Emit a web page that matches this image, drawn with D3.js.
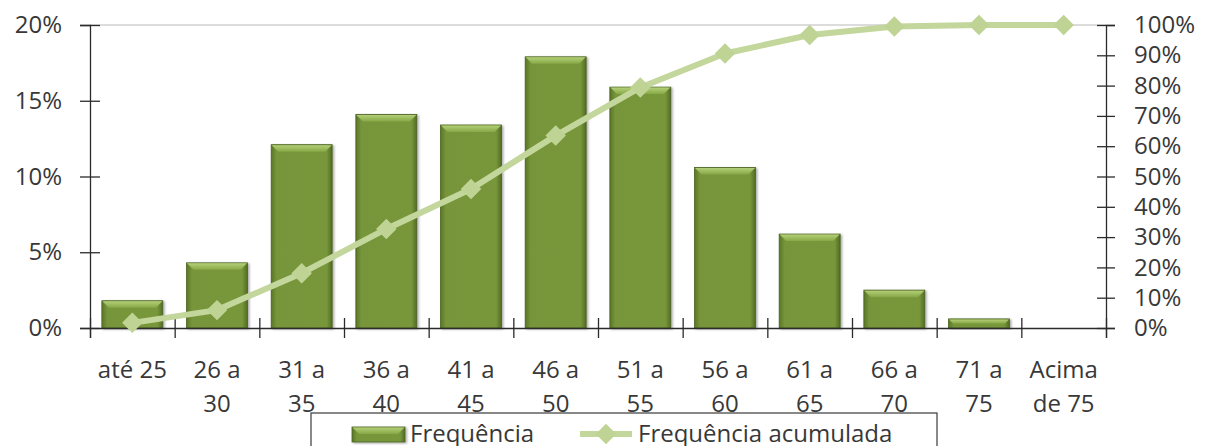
<!DOCTYPE html>
<html>
<head>
<meta charset="utf-8">
<script src="https://cdn.jsdelivr.net/npm/d3@7"></script>
<style>
  html, body { margin: 0; padding: 0; background: #ffffff; }
  svg { display: block; }
  text { font-family: "Open Sans", "Noto Sans", sans-serif; fill: #383838; }
</style>
</head>
<body>
<svg id="chart" width="1213" height="446"></svg>
<script>
// ---- data ----
const categories = ["até 25", "26 a 30", "31 a 35", "36 a 40", "41 a 45", "46 a 50",
                    "51 a 55", "56 a 60", "61 a 65", "66 a 70", "71 a 75", "Acima de 75"];
const frequencia = [1.8, 4.3, 12.1, 14.1, 13.4, 17.9, 15.9, 10.6, 6.2, 2.5, 0.6, 0];
const acumulada  = [1.7, 5.9, 18.1, 32.7, 45.9, 63.5, 79.4, 90.6, 96.7, 99.5, 100, 100];
const leftTicks  = [0, 5, 10, 15, 20];
const rightTicks = [0, 10, 20, 30, 40, 50, 60, 70, 80, 90, 100];
const seriesNames = ["Frequência", "Frequência acumulada"];

// ---- layout ----
const W = 1213, H = 446;
const plot = { left: 90, right: 1106, top: 25, bottom: 328 };
const svg = d3.select("#chart");
const defs = svg.append("defs");

const barBody = defs.append("linearGradient").attr("id", "barBody")
  .attr("x1", "0").attr("x2", "1").attr("y1", "0").attr("y2", "0");
[["0%", "#5a7628"], ["9%", "#77963a"], ["91%", "#78973b"], ["100%", "#526c24"]]
  .forEach(([o, c]) => barBody.append("stop").attr("offset", o).attr("stop-color", c));
const barTop = defs.append("linearGradient").attr("id", "barTop")
  .attr("x1", "0").attr("x2", "0").attr("y1", "0").attr("y2", "1");
[["0%", "#b3cf78"], ["100%", "#87a846"]]
  .forEach(([o, c]) => barTop.append("stop").attr("offset", o).attr("stop-color", c));
const shadow = defs.append("filter").attr("id", "shadow")
  .attr("x", "-20%").attr("y", "-20%").attr("width", "140%").attr("height", "140%");
shadow.append("feDropShadow").attr("dx", 1.5).attr("dy", 1).attr("stdDeviation", 1.2)
  .attr("flood-color", "#000").attr("flood-opacity", 0.35);

const x = d3.scaleBand().domain(categories).range([plot.left, plot.right])
  .paddingInner(0.28).paddingOuter(0.14);
const xEdge = d3.scaleLinear().domain([0, categories.length]).range([plot.left, plot.right]);
const yL = d3.scaleLinear().domain([0, 20]).range([plot.bottom, plot.top]);
const yR = d3.scaleLinear().domain([0, 100]).range([plot.bottom, plot.top]);

// top gridline
svg.append("line")
  .attr("x1", plot.left).attr("x2", plot.right)
  .attr("y1", yL(20)).attr("y2", yL(20))
  .attr("stroke", "#dcdcdc").attr("stroke-width", 2);

// bars
function drawBar(g, x0, y0, w, h) {
  g.append("rect").attr("x", x0).attr("y", y0).attr("width", w).attr("height", h)
    .attr("fill", "url(#barBody)").attr("stroke", "#4b6221").attr("stroke-width", 0.8)
    .attr("filter", "url(#shadow)");
  const b = Math.min(7, h / 2);
  g.append("path")
    .attr("d", `M${x0 + 0.5},${y0 + 0.5} L${x0 + w - 0.5},${y0 + 0.5} L${x0 + w - b},${y0 + b} L${x0 + b},${y0 + b} Z`)
    .attr("fill", "url(#barTop)");
}
const barsG = svg.append("g");
categories.forEach((c, i) => {
  const v = frequencia[i];
  if (v <= 0) return;
  drawBar(barsG, x(c), yL(v), x.bandwidth(), yL(0) - yL(v));
});

// axes
const axisColor = "#2b2b2b";
const gL = svg.append("g").attr("transform", `translate(${plot.left},0)`)
  .call(d3.axisLeft(yL).tickValues(leftTicks).tickFormat(d => d + "%").tickSize(10).tickPadding(18));
gL.selectAll(".tick line").attr("x1", -10).attr("x2", 10);
const gR = svg.append("g").attr("transform", `translate(${plot.right},0)`)
  .call(d3.axisRight(yR).tickValues(rightTicks).tickFormat(d => d + "%").tickSize(9).tickPadding(19));
gR.selectAll(".tick line").attr("x1", -9).attr("x2", 9);
const gE = svg.append("g").attr("transform", `translate(0,${plot.bottom})`)
  .call(d3.axisBottom(xEdge).ticks(categories.length).tickFormat(() => "").tickSize(10));
gE.selectAll(".tick line").attr("y1", -10).attr("y2", 10);
const gX = svg.append("g").attr("transform", `translate(0,${plot.bottom})`)
  .call(d3.axisBottom(x).tickSize(0).tickPadding(0));
gX.select(".domain").remove();

[gL, gR, gE].forEach(g => {
  g.select(".domain").attr("stroke", axisColor).attr("stroke-width", 1.3);
  g.selectAll(".tick line").attr("stroke", axisColor).attr("stroke-width", 1.3);
});
svg.selectAll(".tick text").attr("font-size", 24).attr("fill", "#383838")
  .attr("font-family", '"Open Sans", "Noto Sans", sans-serif');

// wrap x labels
gX.selectAll(".tick text").each(function(d) {
  const t = d3.select(this);
  const words = d.split(" ");
  t.text(null).attr("y", 0).attr("dy", null);
  let lines = [], cur = [];
  const probe = t.append("tspan");
  words.forEach(wd => {
    const test = cur.concat([wd]).join(" ");
    probe.text(test);
    if (probe.node().getComputedTextLength() > 76 && cur.length) {
      lines.push(cur.join(" ")); cur = [wd];
    } else cur.push(wd);
  });
  lines.push(cur.join(" "));
  probe.remove();
  lines.forEach((ln, i) => t.append("tspan").attr("x", 0).attr("y", 50 + i * 34).text(ln));
});

// cumulative line
const lineColor = "#c3d69b";
const cx = (c) => x(c) + x.bandwidth() / 2;
svg.append("path").datum(categories.map((c, i) => [cx(c), yR(acumulada[i])]))
  .attr("d", d3.line())
  .attr("fill", "none").attr("stroke", lineColor).attr("stroke-width", 6)
  .attr("stroke-linejoin", "round");
const sym = d3.symbol().type(d3.symbolSquare).size(210);
svg.append("g").selectAll("path").data(categories).join("path")
  .attr("d", sym)
  .attr("transform", (c, i) => `translate(${cx(c)},${yR(acumulada[i])}) rotate(45)`)
  .attr("fill", "#bfd394");

// legend
const lg = svg.append("g");
lg.append("rect").attr("x", 311).attr("y", 413).attr("width", 626).attr("height", 60)
  .attr("fill", "#fff").attr("stroke", "#3a3a3a").attr("stroke-width", 1.2);
drawBar(lg, 352, 427, 53, 15);
lg.append("text").attr("x", 410).attr("y", 442).attr("font-size", 24).text(seriesNames[0]);
lg.append("line").attr("x1", 580).attr("x2", 632).attr("y1", 434).attr("y2", 434)
  .attr("stroke", lineColor).attr("stroke-width", 6);
lg.append("path").attr("d", sym).attr("transform", "translate(606,434) rotate(45)").attr("fill", "#bfd394");
lg.append("text").attr("x", 638).attr("y", 442).attr("font-size", 24).text(seriesNames[1]);
</script>
</body>
</html>
